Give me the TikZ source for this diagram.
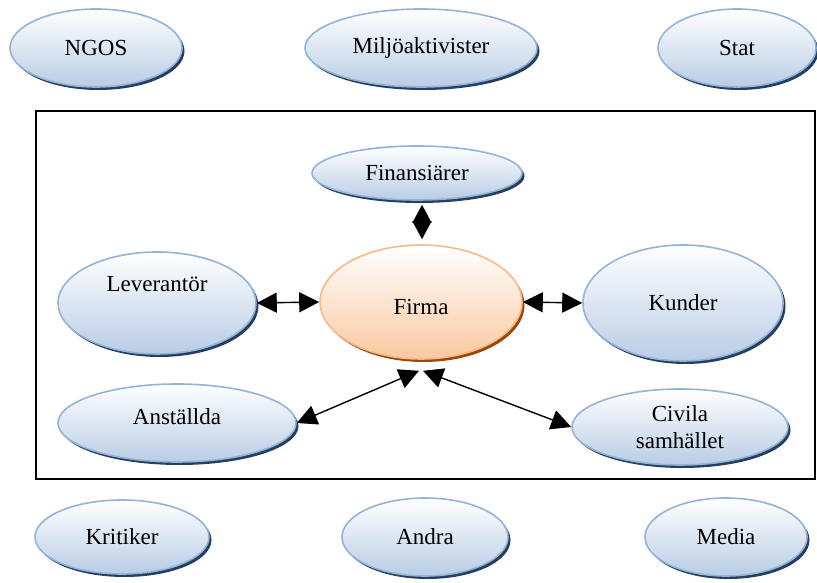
\documentclass[tikz,border=0pt]{standalone}
\usepackage{fontspec}
\setmainfont{Liberation Serif}
\usetikzlibrary{shapes.geometric,shadows,arrows.meta}
\definecolor{partyfill}{HTML}{B9CDE5}
\definecolor{partyline}{HTML}{95B3D7}
\definecolor{partyshadow}{HTML}{243F60}
\definecolor{firmfill}{HTML}{FAC9A0}
\definecolor{firmline}{HTML}{F9B888}
\definecolor{firmshadow}{HTML}{984807}
\tikzset{
  oval/.style={ellipse, line width=1.6pt, top color=white, inner sep=0pt,
    font=\fontsize{23}{27}\selectfont, align=center},
  party/.style={oval, draw=partyline, bottom color=partyfill,
    drop shadow={shadow xshift=2.5pt, shadow yshift=-3pt, fill=partyshadow, opacity=1}},
  firm/.style={oval, draw=firmline, bottom color=firmfill,
    drop shadow={shadow xshift=2.5pt, shadow yshift=-3pt, fill=firmshadow, opacity=1}},
  link/.style={{Triangle[length=20pt,width=20pt]}-{Triangle[length=20pt,width=20pt]}, line width=1.4pt},
  shortlink/.style={{Triangle[length=18pt,width=19pt]}-{Triangle[length=18pt,width=19pt]}, line width=1.4pt},
}
\begin{document}
\begin{tikzpicture}[x=1pt,y=1pt]
\useasboundingbox (0,0) rectangle (817,583);
\draw[line width=1.3pt] (36,104) rectangle (815,472);
\draw (96,535) node[party,minimum width=172pt,minimum height=78pt](ngos) {NGOS};
\draw (421,535) node[party,minimum width=232pt,minimum height=78pt](miljo) {Miljöaktivister};
\draw (737,535) node[party,minimum width=158pt,minimum height=78pt](stat) {Stat};
\draw (417,410) node[party,minimum width=210pt,minimum height=54pt](finans) {Finansiärer};
\draw (157,280) node[party,minimum width=198pt,minimum height=102pt,text height=16pt,text depth=39pt](lev) {Leverantör};
\draw (421,281) node[firm,minimum width=202pt,minimum height=114pt,text height=29pt,text depth=4pt](firma) {Firma};
\draw (683,280) node[party,minimum width=200pt,minimum height=116pt](kunder) {Kunder};
\draw (177,160) node[party,minimum width=238pt,minimum height=78pt,text height=16pt,text depth=13pt](anst) {Anställda};
\draw (680,156) node[party,minimum width=216pt,minimum height=76pt](civila) {Civila\\samhället};
\draw (122,46) node[party,minimum width=174pt,minimum height=74pt](kritiker) {Kritiker};
\draw (425,46) node[party,minimum width=166pt,minimum height=78pt](andra) {Andra};
\draw (726,46) node[party,minimum width=162pt,minimum height=78pt](media) {Media};
\draw[shortlink] ([xshift=5pt,yshift=-4pt]finans.south) -- ([xshift=1pt,yshift=5pt]firma.north);
\draw[link] (lev.east) -- (firma.west);
\draw[link] (firma.east) -- (kunder.west);
\draw[link] ([xshift=-2pt,yshift=-11pt]firma.south) -- (anst.east);
\draw[link] ([xshift=2pt,yshift=-11pt]firma.south) -- (civila.west);
\end{tikzpicture}
\end{document}
